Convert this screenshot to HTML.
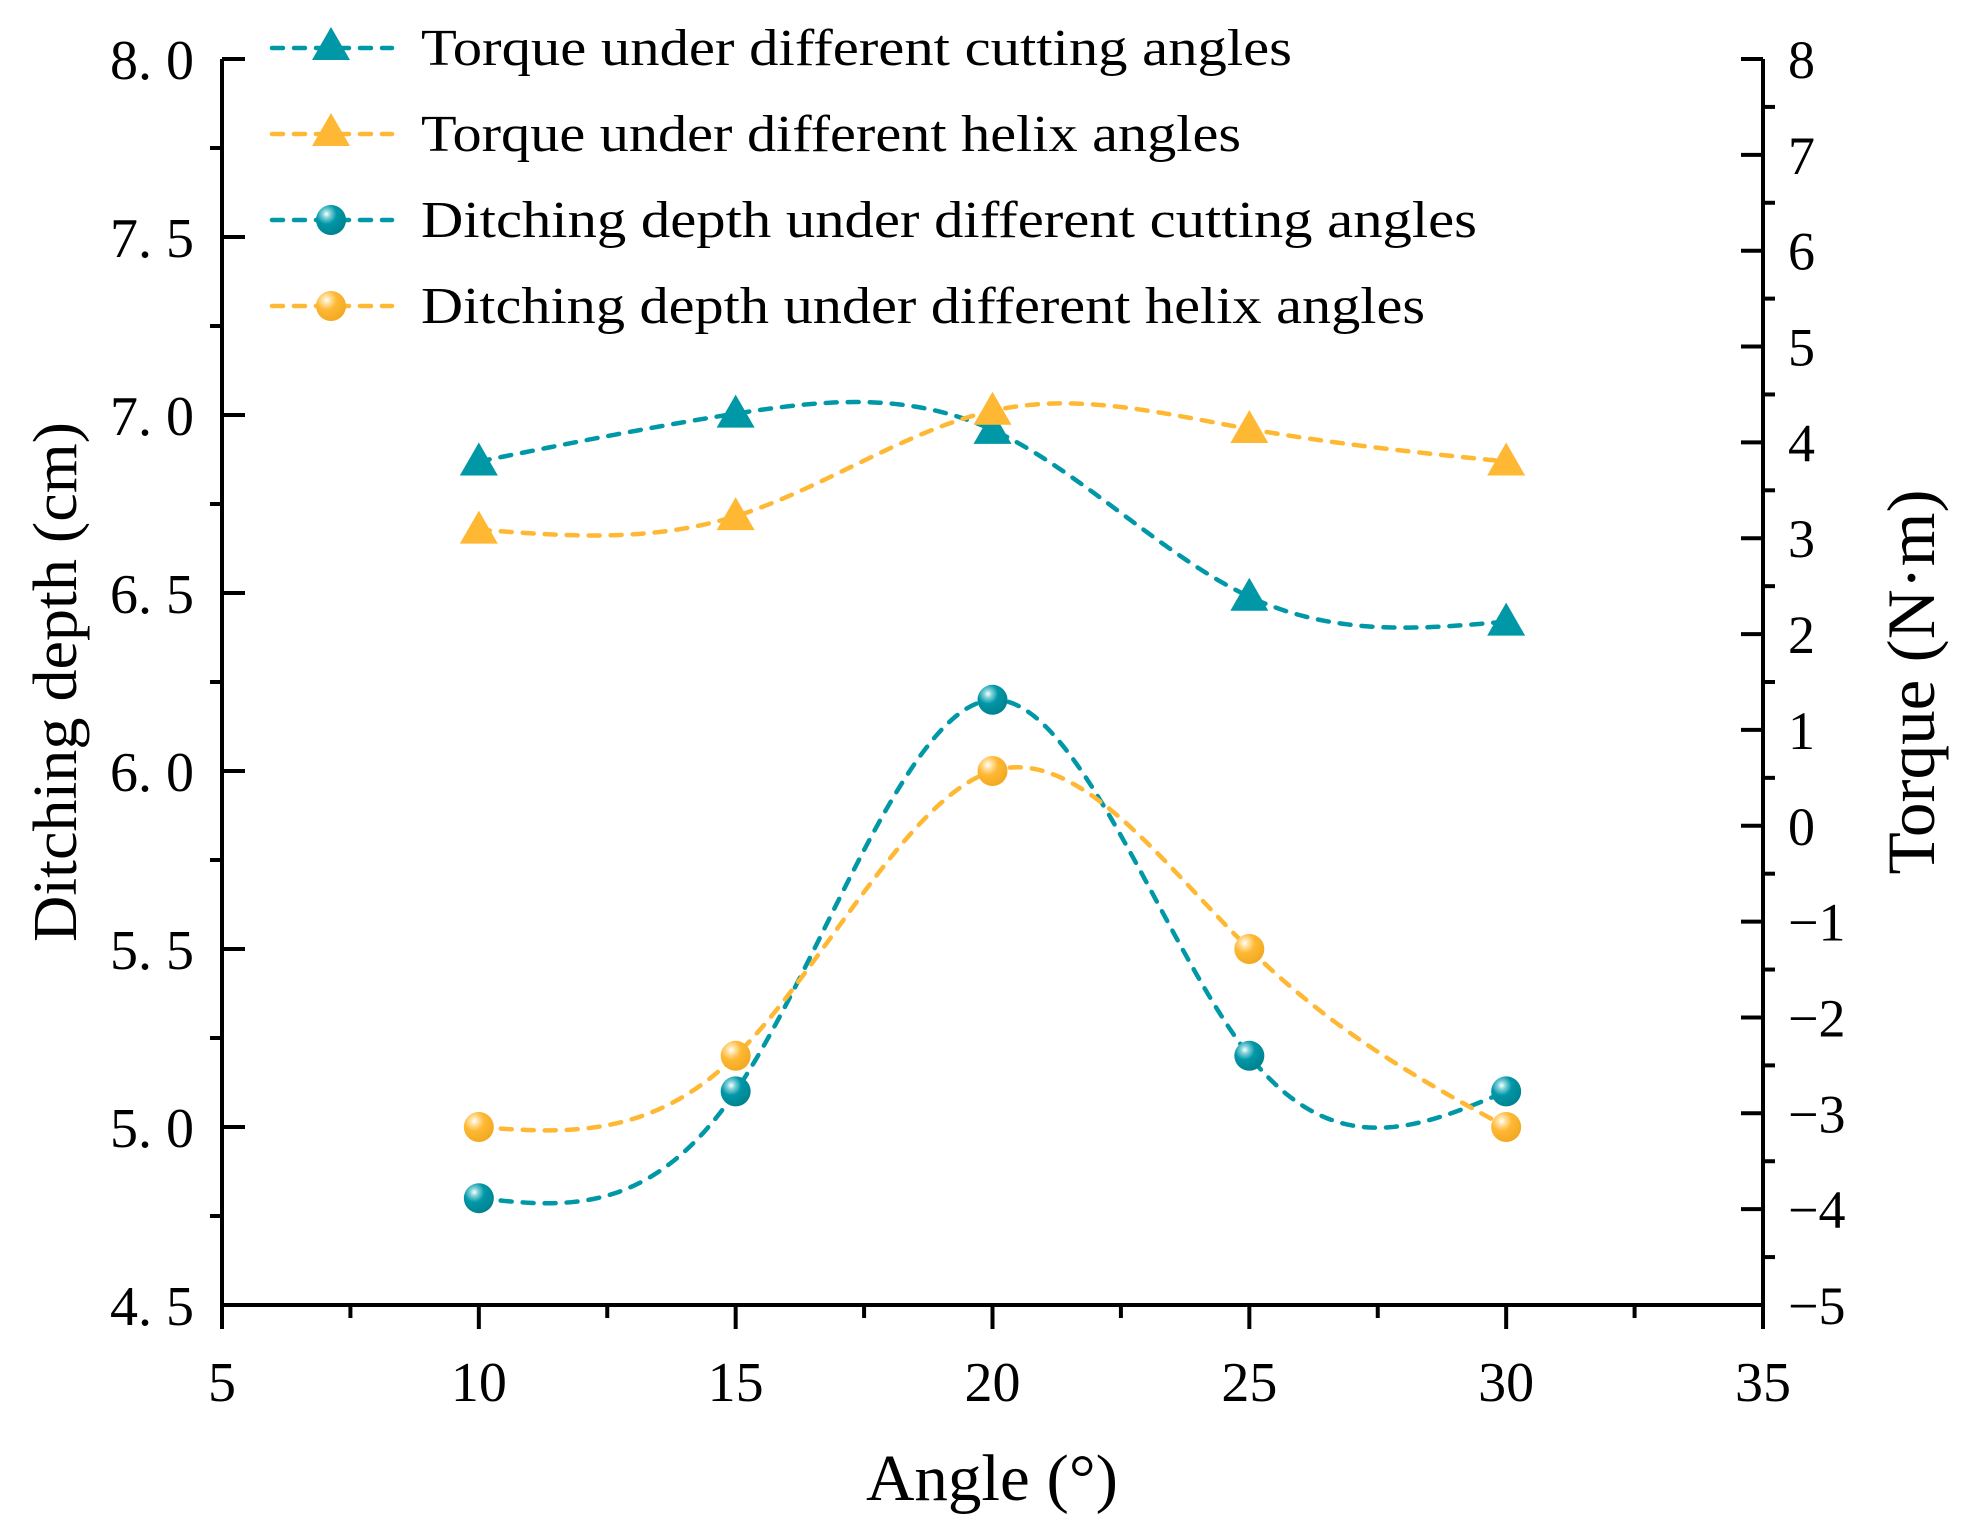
<!DOCTYPE html>
<html><head><meta charset="utf-8"><style>
html,body{margin:0;padding:0;background:#fff;}
svg{display:block;font-family:"Liberation Serif",serif;}
</style></head><body>
<svg id="chart" width="1979" height="1537" viewBox="0 0 1979 1537" xmlns="http://www.w3.org/2000/svg">
<defs>
<radialGradient id="gTeal" cx="0.35" cy="0.3" r="0.75">
<stop offset="0" stop-color="#ffffff"/><stop offset="0.18" stop-color="#7fd0d8"/><stop offset="0.45" stop-color="#0097a7"/><stop offset="1" stop-color="#00808e"/>
</radialGradient>
<radialGradient id="gOrange" cx="0.35" cy="0.3" r="0.75">
<stop offset="0" stop-color="#ffffff"/><stop offset="0.18" stop-color="#ffe0a0"/><stop offset="0.45" stop-color="#ffb833"/><stop offset="1" stop-color="#f0a820"/>
</radialGradient>
</defs>
<g id="axes"></g>
<g id="series"></g>
<g id="legend"></g>
<text x="992" y="1500" font-size="66" text-anchor="middle" textLength="252" lengthAdjust="spacingAndGlyphs">Angle (°)</text>
<text transform="translate(76,682) rotate(-90)" font-size="62" text-anchor="middle" textLength="520" lengthAdjust="spacingAndGlyphs">Ditching depth (cm)</text>
<text transform="translate(1934,682) rotate(-90)" font-size="68" text-anchor="middle" textLength="385" lengthAdjust="spacingAndGlyphs">Torque (N·m)</text>
</svg>
<script>
const angles = [10, 15, 20, 25, 30];
const torqueCutting = [3.8, 4.3, 4.13, 2.39, 2.13];
const torqueHelix = [3.09, 3.23, 4.33, 4.14, 3.8];
const depthCutting = [4.8, 5.1, 6.2, 5.2, 5.1];
const depthHelix = [5.0, 5.2, 6.0, 5.5, 5.0];
const xTicks = [5, 10, 15, 20, 25, 30, 35];
const leftTicks = ["4.5","5.0","5.5","6.0","6.5","7.0","7.5","8.0"];
const rightTicks = [-5,-4,-3,-2,-1,0,1,2,3,4,5,6,7,8];
const legendLabels = ["Torque under different cutting angles","Torque under different helix angles","Ditching depth under different cutting angles","Ditching depth under different helix angles"];
const legendWidths = [871, 820, 1056, 1004];

const X0=222, X1=1763, YT=59, YB=1305;
const xS = v => X0 + (v-5)/30*(X1-X0);
const yL = v => YB - (v-4.5)/3.5*(YB-YT);
const yR = v => YB - (v+5)/13*(YB-YT);
const NS="http://www.w3.org/2000/svg";
function mk(tag, attrs, parent){const e=document.createElementNS(NS,tag);for(const k in attrs)e.setAttribute(k,attrs[k]);parent.appendChild(e);return e;}
const axes=document.getElementById('axes');
const SW=4;
let l=mk('line',{x1:X0,y1:YT,x2:X0,y2:YB+2,stroke:'#000','stroke-width':SW},axes);


l=mk('line',{x1:X1,y1:YT,x2:X1,y2:YB+2,stroke:'#000','stroke-width':SW},axes);


l=mk('line',{x1:X0-2,y1:YB,x2:X1+2,y2:YB,stroke:'#000','stroke-width':SW},axes);


xTicks.forEach((v,i)=>{
  const x=xS(v);
  const t=mk('line',{x1:x,y1:YB,x2:x,y2:YB+24,stroke:'#000','stroke-width':SW},axes);
  
  
  const tx=mk('text',{x:x,y:YB+96,'font-size':56,'text-anchor':'middle'},axes);
  tx.textContent=v;
  
  
  if(i<xTicks.length-1){
    const m=xS(v+2.5);
    const mt=mk('line',{x1:m,y1:YB,x2:m,y2:YB+13,stroke:'#000','stroke-width':SW},axes);
    
    
  }
});
leftTicks.forEach((s,i)=>{
  const v=parseFloat(s), y=yL(v);
  const t=mk('line',{x1:X0,y1:y,x2:X0+23,y2:y,stroke:'#000','stroke-width':SW},axes);
  
  
  const tx=mk('text',{x:194,y:y+20,'font-size':56,'text-anchor':'end'},axes);
  tx.textContent=s.replace('.','. ');
  
  
  if(i<leftTicks.length-1){
    const m=yL(v+0.25);
    const mt=mk('line',{x1:X0-12,y1:m,x2:X0,y2:m,stroke:'#000','stroke-width':SW},axes);
    
    
  }
});
rightTicks.forEach((v,i)=>{
  const y=yR(v);
  const t=mk('line',{x1:X1-22,y1:y,x2:X1,y2:y,stroke:'#000','stroke-width':SW},axes);
  
  
  const tx=mk('text',{x:1788,y:y+19,'font-size':54,'text-anchor':'start'},axes);
  tx.textContent=(v<0?'\u2212':'')+Math.abs(v);
  
  
  if(i<rightTicks.length-1){
    const m=yR(v+0.5);
    const mt=mk('line',{x1:X1,y1:m,x2:X1+12,y2:m,stroke:'#000','stroke-width':SW},axes);
    
    
  }
});
function spline(xs, ys){
  const n=xs.length, h=[], a=[], l=[1], mu=[0], z=[0], c=new Array(n).fill(0), b=[], d=[];
  for(let i=0;i<n-1;i++)h.push(xs[i+1]-xs[i]);
  for(let i=1;i<n-1;i++)a[i]=3/h[i]*(ys[i+1]-ys[i])-3/h[i-1]*(ys[i]-ys[i-1]);
  for(let i=1;i<n-1;i++){l[i]=2*(xs[i+1]-xs[i-1])-h[i-1]*mu[i-1];mu[i]=h[i]/l[i];z[i]=(a[i]-h[i-1]*z[i-1])/l[i];}
  for(let j=n-2;j>=0;j--){c[j]=(j>0?z[j]:0)-mu[j]*c[j+1];b[j]=(ys[j+1]-ys[j])/h[j]-h[j]*(c[j+1]+2*c[j])/3;d[j]=(c[j+1]-c[j])/(3*h[j]);}
  return t=>{let j=0;while(j<n-2&&t>xs[j+1])j++;const dx=t-xs[j];return ys[j]+b[j]*dx+c[j]*dx*dx+d[j]*dx*dx*dx;};
}
const ser=document.getElementById('series');
const defs=[
  {vals:torqueCutting,yf:yR,col:'#0097a7',shape:'tri',name:'torque-cutting'},
  {vals:torqueHelix,yf:yR,col:'#ffb833',shape:'tri',name:'torque-helix'},
  {vals:depthCutting,yf:yL,col:'#0097a7',shape:'circ',grad:'url(#gTeal)',name:'depth-cutting'},
  {vals:depthHelix,yf:yL,col:'#ffb833',shape:'circ',grad:'url(#gOrange)',name:'depth-helix'}
];
function marker(s,x,y,parent){
  if(s.shape==='tri') return mk('polygon',{points:`${x},${y-19} ${x-19},${y+14} ${x+19},${y+14}`,fill:s.col},parent);
  return mk('circle',{cx:x,cy:y,r:15,fill:s.grad},parent);
}
defs.forEach(s=>{
  const f=spline(angles,s.vals);
  let d='';
  for(let t=angles[0];t<=angles[angles.length-1]+1e-9;t+=0.1){d+=(d?'L':'M')+xS(t).toFixed(2)+','+s.yf(f(t)).toFixed(2);}
  const p=mk('path',{d:d,fill:'none',stroke:s.col,'stroke-width':4.5,'stroke-dasharray':'11 11','stroke-linecap':'round'},ser);
  
  
  angles.forEach((a,i)=>{
    const m=marker(s,xS(a),s.yf(s.vals[i]),ser);
    
    
  });
});
const leg=document.getElementById('legend');
const rows=[48,134,220,306];
defs.forEach((s,i)=>{
  const y=rows[i];
  const g=mk('g',{},leg);
  
  
  mk('line',{x1:272,y1:y,x2:392,y2:y,stroke:s.col,'stroke-width':4.5,'stroke-dasharray':'11 11','stroke-linecap':'round'},g);
  marker(s,331,s.shape==='tri'?y-2:y,g);
  const tx=mk('text',{x:421,y:y+17,'font-size':52,textLength:legendWidths[i],lengthAdjust:'spacingAndGlyphs'},g);
  tx.textContent=legendLabels[i];
});
</script>
</body></html>
